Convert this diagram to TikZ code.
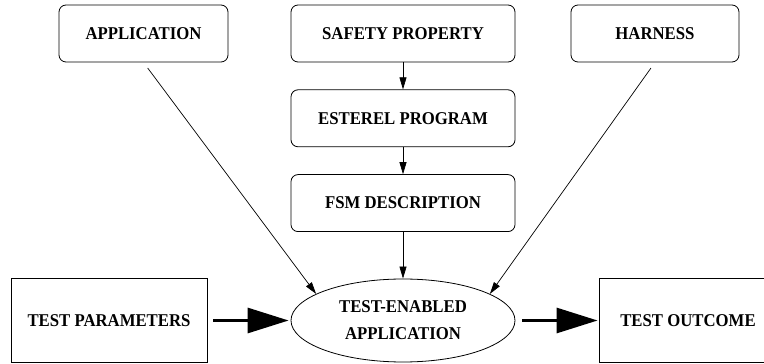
\documentclass[tikz,border=0pt]{standalone}
\usepackage{fontspec}
\setmainfont{Liberation Serif}[FakeStretch=0.93]
\usetikzlibrary{shapes,arrows.meta,positioning}

\begin{document}
\begin{tikzpicture}[x=1pt,y=1pt,
        font=\fontsize{18}{27}\selectfont\bfseries,
        rbox/.style={draw,rounded corners=7pt,minimum width=#1,minimum height=57pt,inner sep=0pt,line width=0.8pt},
        sbox/.style={draw,minimum width=#1,minimum height=84pt,inner sep=0pt,line width=0.9pt},
        oval/.style={draw,ellipse,minimum width=224pt,minimum height=83pt,inner sep=0pt,align=center,line width=0.8pt},
        flow/.style={-{Triangle[length=12pt,width=7pt]},line width=0.7pt},
        bigflow/.style={-{Triangle[length=41pt,width=25pt]},line width=3pt}]
    \useasboundingbox (0,0) rectangle (764,364);
    % inputs
    \node[rbox=169pt] (app)     at (143.5,330.5) {APPLICATION};
    \node[rbox=224pt] (safety)  at (403,330.5)   {SAFETY PROPERTY};
    \node[rbox=168pt] (harness) at (655,330.5)   {HARNESS};
    % translation chain
    \node[rbox=224pt, below=27pt of safety]  (esterel) {ESTEREL PROGRAM};
    \node[rbox=224pt, below=27pt of esterel] (fsm)     {FSM DESCRIPTION};
    % test run
    \node[oval]       (ell)     at (403,43.5) {TEST-ENABLED\\APPLICATION};
    \node[sbox=196pt] (params)  at (109,43.5) {TEST PARAMETERS};
    \node[sbox=178pt] (outcome) at (688,43.5) {TEST OUTCOME};

    \draw[flow] (safety) -- (esterel);
    \draw[flow] (esterel) -- (fsm);
    \draw[flow] (fsm) -- (ell);
    \draw[flow,shorten <=7pt] (app.south) -- (ell.163);
    \draw[flow,shorten <=7pt] (harness.south) -- (ell.17);
    \draw[bigflow,shorten <=6pt,shorten >=2pt] (params) -- (ell);
    \draw[bigflow,shorten <=7pt,shorten >=1pt] (ell) -- (outcome);
\end{tikzpicture}
\end{document}
